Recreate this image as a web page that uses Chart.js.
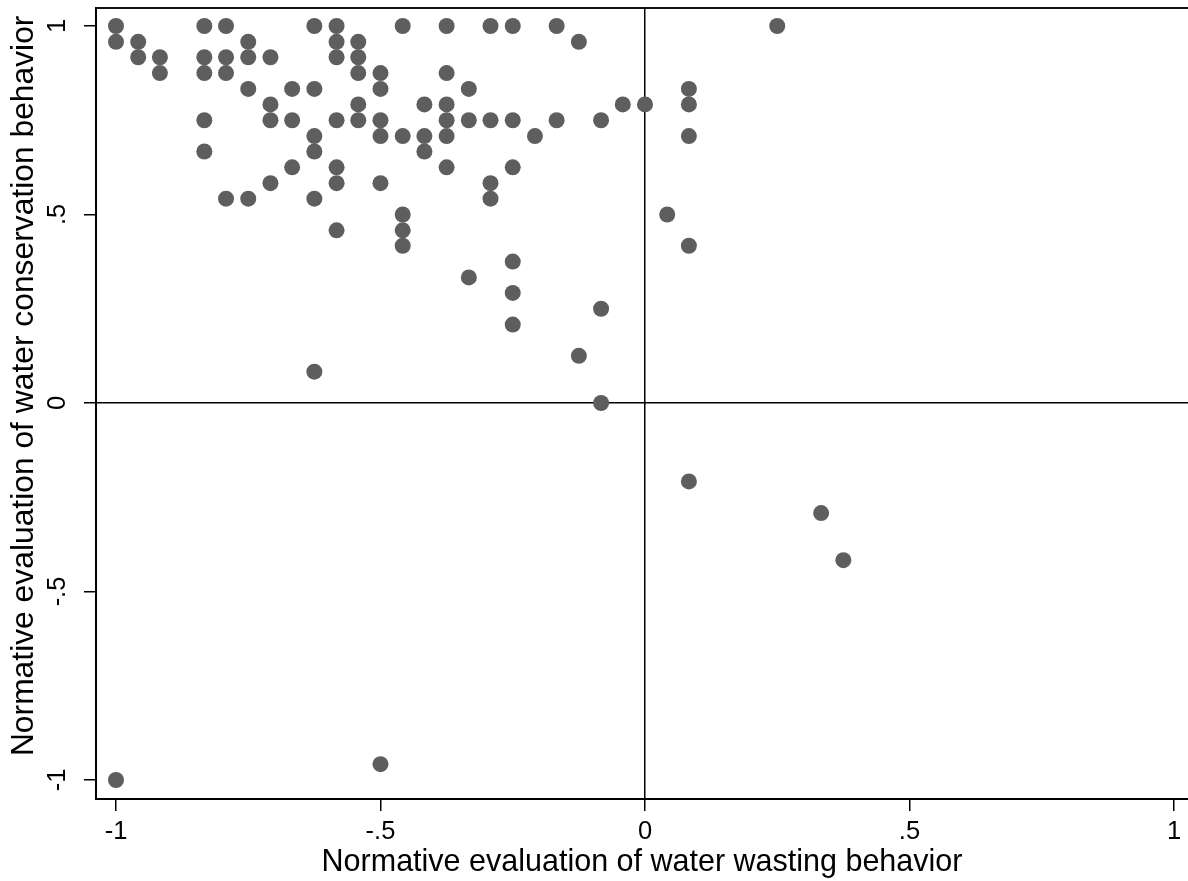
<!DOCTYPE html>
<html>
<head>
<meta charset="utf-8">
<script src="https://cdn.jsdelivr.net/npm/chart.js@4.4.1/dist/chart.umd.min.js"></script>
<style>
  html, body { margin: 0; padding: 0; background: #fff; }
  canvas { display: block; }
</style>
</head>
<body>
<canvas id="chart" width="1188" height="881"></canvas>
<script>
// water wasting (x) vs water conservation (y), one entry per respondent
const xVals = [
  -1, -1, -1,
  -0.958, -0.958,
  -0.917, -0.917,
  -0.833, -0.833, -0.833, -0.833, -0.833,
  -0.792, -0.792, -0.792, -0.792,
  -0.75, -0.75, -0.75, -0.75,
  -0.708, -0.708, -0.708, -0.708,
  -0.667, -0.667, -0.667,
  -0.625, -0.625, -0.625, -0.625, -0.625, -0.625,
  -0.583, -0.583, -0.583, -0.583, -0.583, -0.583, -0.583,
  -0.542, -0.542, -0.542, -0.542, -0.542,
  -0.5, -0.5, -0.5, -0.5, -0.5, -0.5,
  -0.458, -0.458, -0.458, -0.458, -0.458,
  -0.417, -0.417, -0.417,
  -0.375, -0.375, -0.375, -0.375, -0.375, -0.375,
  -0.333, -0.333, -0.333,
  -0.292, -0.292, -0.292, -0.292,
  -0.25, -0.25, -0.25, -0.25, -0.25, -0.25,
  -0.208,
  -0.167, -0.167,
  -0.125, -0.125,
  -0.083, -0.083, -0.083,
  -0.042,
  0,
  0.042,
  0.083, 0.083, 0.083, 0.083, 0.083,
  0.25,
  0.333,
  0.375
]
const yVals = [
  1, 0.958, -1,
  0.958, 0.917,
  0.917, 0.875,
  1, 0.917, 0.875, 0.75, 0.667,
  1, 0.917, 0.875, 0.542,
  0.958, 0.917, 0.833, 0.542,
  0.917, 0.792, 0.75, 0.583,
  0.833, 0.75, 0.625,
  1, 0.833, 0.708, 0.667, 0.542, 0.083,
  1, 0.958, 0.917, 0.75, 0.625, 0.583, 0.458,
  0.958, 0.917, 0.875, 0.792, 0.75,
  0.875, 0.833, 0.75, 0.708, 0.583, -0.958,
  1, 0.708, 0.5, 0.458, 0.417,
  0.792, 0.708, 0.667,
  1, 0.875, 0.792, 0.75, 0.708, 0.625,
  0.833, 0.75, 0.333,
  1, 0.75, 0.583, 0.542,
  1, 0.75, 0.625, 0.375, 0.292, 0.208,
  0.708,
  1, 0.75,
  0.958, 0.125,
  0.75, 0.25, 0,
  0.792,
  0.792,
  0.5,
  0.833, 0.792, 0.708, 0.417, -0.208,
  1,
  -0.292,
  -0.417
]

const xTickValues = [-1, -0.5, 0, 0.5, 1]
const xTickLabels = ['-1', '-.5', '0', '.5', '1']
const yTickValues = [-1, -0.5, 0, 0.5, 1]
const yTickLabels = ['-1', '-.5', '0', '.5', '1']

const font = 'Liberation Sans, Arial, sans-serif'

// black line at 0 on each axis, everything else hidden
const zeroLine = (ctx) => (ctx.tick && ctx.tick.value === 0 ? '#000' : 'rgba(0,0,0,0)')

// fixed axis sizes, no extra room for the end labels
const fitAxis = (size) => (scale) => {
  if (scale.isHorizontal()) scale.height = size
  else scale.width = size
  scale.paddingTop = 0
  scale.paddingBottom = 0
  scale.paddingLeft = 0
  scale.paddingRight = 0
}

const topBorder = {
  id: 'topBorder',
  afterDraw (chart) {
    const { ctx, chartArea } = chart
    ctx.save()
    ctx.strokeStyle = '#111'
    ctx.lineWidth = 2
    ctx.beginPath()
    ctx.moveTo(chartArea.left, chartArea.top)
    ctx.lineTo(chartArea.right, chartArea.top)
    ctx.stroke()
    ctx.restore()
  }
}

const data = {
  datasets: [{
    data: xVals.map((x, i) => ({ x, y: yVals[i] })),
    backgroundColor: '#5e5e5e',
    borderWidth: 0,
    pointRadius: 8,
    pointHoverRadius: 8
  }]
}

const options = {
  responsive: false,
  animation: false,
  layout: { autoPadding: false, padding: { top: 8, right: 0, left: 0, bottom: 0 } },
  plugins: {
    legend: { display: false },
    tooltip: { enabled: false }
  },
  scales: {
    x: {
      type: 'linear',
      min: -1.0378,
      max: 1.0265,
      afterBuildTicks: (scale) => { scale.ticks = xTickValues.map((value) => ({ value })) },
      afterFit: fitAxis(82),
      border: { color: '#000', width: 2 },
      grid: { color: zeroLine, lineWidth: 1.5, tickColor: '#000', tickWidth: 1.5, tickLength: 12 },
      ticks: {
        color: '#000',
        font: { family: font, size: 25.5 },
        padding: 6,
        maxRotation: 0,
        callback: (value, index) => xTickLabels[index]
      },
      title: {
        display: true,
        text: 'Normative evaluation of water wasting behavior',
        color: '#000',
        font: { family: font, size: 30.5 },
        padding: { top: 0, bottom: 0 }
      }
    },
    y: {
      type: 'linear',
      min: -1.0504,
      max: 1.0477,
      afterBuildTicks: (scale) => { scale.ticks = yTickValues.map((value) => ({ value })) },
      afterFit: fitAxis(96),
      border: { color: '#000', width: 2 },
      grid: { color: zeroLine, lineWidth: 1.5, tickColor: '#000', tickWidth: 1.5, tickLength: 12 },
      ticks: {
        color: '#000',
        font: { family: font, size: 25.5 },
        padding: 11,
        minRotation: 90,
        maxRotation: 90,
        crossAlign: 'center',
        callback: (value, index) => yTickLabels[index]
      },
      title: {
        display: true,
        text: '\u00a0\u00a0\u00a0\u00a0Normative evaluation of water conservation behavior',
        color: '#000',
        font: { family: font, size: 31.8 },
        padding: { top: 5, bottom: 0 }
      }
    }
  }
}

new Chart(document.getElementById('chart').getContext('2d'), {
  type: 'scatter',
  data,
  options,
  plugins: [topBorder]
})
</script>
</body>
</html>
